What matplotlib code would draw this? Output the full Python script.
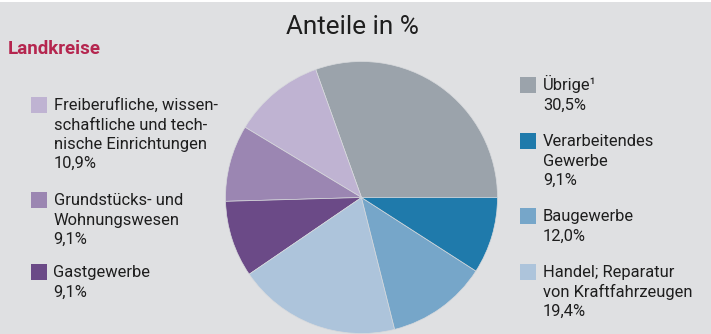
import matplotlib
matplotlib.use("Agg")
import matplotlib.pyplot as plt
from matplotlib.patches import Rectangle

plt.rcParams['font.family'] = ['Roboto', 'DejaVu Sans']

# Data (counterclockwise from 3 o'clock)
labels = ["Übrige¹", "Freiberufliche, wissen-\nschaftliche und tech-\nnische Einrichtungen",
          "Grundstücks- und\nWohnungswesen", "Gastgewerbe",
          "Handel; Reparatur\nvon Kraftfahrzeugen", "Baugewerbe",
          "Verarbeitendes\nGewerbe"]
values = [30.5, 10.9, 9.1, 9.1, 19.4, 12.0, 9.1]
value_labels = ["30,5%", "10,9%", "9,1%", "9,1%", "19,4%", "12,0%", "9,1%"]
colors = ["#9ba3ab", "#bfb3d2", "#9b86b2", "#6b4a87", "#adc4db", "#76a6c9", "#1f7aab"]

W, H = 711, 334
bg = "#dfe0e2"
fig = plt.figure(figsize=(W / 100, H / 100), dpi=100, facecolor=bg)

# thin white band at the top
fig.patches.append(Rectangle((0, 1 - 2 / H), 1, 2 / H, transform=fig.transFigure,
                             facecolor="white", edgecolor="none", zorder=0))

# Pie
cx, cy, r = 361.5, 197.5, 136
ax = fig.add_axes([(cx - r) / W, (H - cy - r) / H, 2 * r / W, 2 * r / H])
ax.set_facecolor("none")
ax.pie(values, colors=colors, startangle=0, counterclock=True, radius=1,
       wedgeprops=dict(edgecolor="#d8dadd", linewidth=0.5))
ax.set_xlim(-1, 1)
ax.set_ylim(-1, 1)
ax.set_aspect("auto")
ax.axis("off")

def px(x, y):
    return x / W, 1 - y / H

# Title texts
fig.text(*px(352.5, 34), "Anteile in %", fontsize=18.8, ha="center", va="baseline", color="#1e1e1e")
fig.text(*px(8, 54), "Landkreise", fontsize=13.5, fontweight="bold", ha="left", va="baseline",
         color="#b5264f")

# Legend entries: (index, square top y, side)
entries = [
    (1, 97, "L"), (2, 192, "L"), (3, 264, "L"),
    (0, 77, "R"), (6, 133, "R"), (5, 208, "R"), (4, 264, "R"),
]
sq = 16
step = 19.3
for idx, top, side in entries:
    sx = 31 if side == "L" else 520
    tx = 53.5 if side == "L" else 543
    fig.patches.append(Rectangle(px(sx, top + sq), sq / W, sq / H, transform=fig.transFigure,
                                 facecolor=colors[idx], edgecolor="none"))
    lines = labels[idx].split("\n") + [value_labels[idx]]
    for k, line in enumerate(lines):
        fig.text(*px(tx, top + 13.3 + k * step), line, fontsize=11.9, ha="left",
                 va="baseline", color="#1e1e1e")

fig.savefig("out.png", dpi=100, facecolor=bg)
